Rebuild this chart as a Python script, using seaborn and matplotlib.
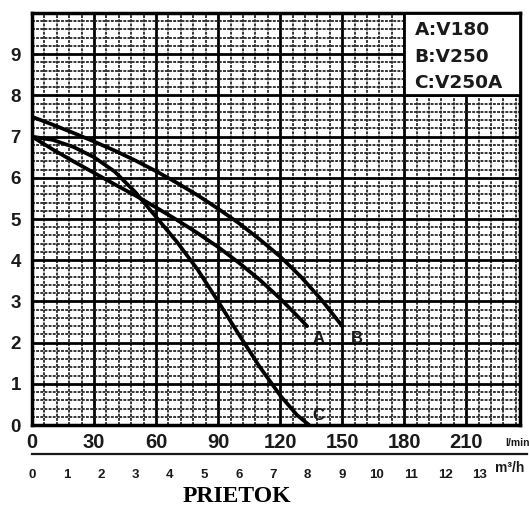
import matplotlib
matplotlib.use("Agg")
import matplotlib.pyplot as plt
import seaborn as sns
import pandas as pd
import numpy as np
from matplotlib.patches import Rectangle

# ---- data ----
flow_A = [0, 10, 20, 30, 40, 50, 60, 70, 80, 90, 100, 110, 120, 130, 133]
head_A = [7.0, 6.69, 6.40, 6.12, 5.84, 5.57, 5.28, 4.98, 4.66, 4.32, 3.94, 3.53, 3.07, 2.56, 2.4]

flow_B = [0, 10, 20, 30, 40, 50, 60, 70, 80, 90, 100, 110, 120, 130, 140, 150]
head_B = [7.48, 7.29, 7.09, 6.88, 6.66, 6.42, 6.16, 5.88, 5.58, 5.25, 4.9, 4.51, 4.09, 3.6, 3.04, 2.4]

flow_C = [0, 10, 20, 30, 40, 50, 60, 70, 80, 90, 100, 110, 120, 128, 134]
head_C = [7.0, 6.92, 6.75, 6.5, 6.15, 5.65, 5.05, 4.45, 3.78, 3.0, 2.2, 1.42, 0.72, 0.25, 0.0]

curve_names = ["A", "B", "C"]
legend_lines = ["A:V180", "B:V250", "C:V250A"]
x_ticks_lpm = [0, 30, 60, 90, 120, 150, 180, 210]
y_ticks = [0, 1, 2, 3, 4, 5, 6, 7, 8, 9]
m3h_ticks = list(range(0, 14))
x_unit = "l/min"
x2_unit = "m³/h"
x_title = "PRIETOK"

df = pd.concat([
    pd.DataFrame({"flow": flow_A, "head": head_A, "curve": "A"}),
    pd.DataFrame({"flow": flow_B, "head": head_B, "curve": "B"}),
    pd.DataFrame({"flow": flow_C, "head": head_C, "curve": "C"}),
])

sns.set_style("white")
plt.rcParams["font.family"] = ["Liberation Sans", "DejaVu Sans"]

W, H = 529, 508
fig = plt.figure(figsize=(W / 100, H / 100), dpi=100)
L, R, T, B = 32, 520, 13, 425
ax = fig.add_axes([L / W, 1 - B / H, (R - L) / W, (B - T) / H])

XMAX = 236
ax.set_xlim(0, XMAX)
ax.set_ylim(0, 10)

# grid
ax.set_xticks(x_ticks_lpm)
ax.set_xticks(np.arange(0, XMAX, 6), minor=True)
ax.set_yticks(y_ticks)
ax.set_yticks(np.arange(0, 10, 0.2), minor=True)
ax.grid(which="minor", color="#262626", lw=1.3, ls=(0, (1.6, 0.7)), zorder=1)
ax.grid(which="major", color="black", lw=2.0, ls="-", zorder=1.5)
ax.set_axisbelow(True)
for s in ax.spines.values():
    s.set_color("black")
    s.set_linewidth(2.5)

ax.tick_params(which="both", length=0)
ax.tick_params(axis="x", pad=6, labelsize=14.5)
ax.tick_params(axis="y", pad=8, labelsize=13.5)
for lab in ax.get_xticklabels() + ax.get_yticklabels():
    lab.set_fontweight("bold")
    lab.set_color("#1a1a1a")

sns.lineplot(data=df, x="flow", y="head", hue="curve",
             palette={"A": "black", "B": "black", "C": "black"},
             lw=2.7, legend=False, ax=ax, zorder=5, sort=False)
ax.set_xlabel("")
ax.set_ylabel("")

# curve labels
lab_kw = dict(fontsize=12, fontweight="bold", color="#1a1a1a", zorder=6,
              ha="center", va="center")
ax.text(138.8, 2.1, curve_names[0], **lab_kw)
ax.text(157.2, 2.1, curve_names[1], **lab_kw)
ax.text(138.3, 0.22, curve_names[2], **lab_kw)

# legend box
ax.add_patch(Rectangle((180, 8), XMAX - 180, 2, facecolor="white",
                       edgecolor="black", lw=2, zorder=7))
for i, t in enumerate(legend_lines):
    ax.text(185.0, 9.59 - i * 0.65, t, fontsize=13.3, fontweight="bold",
            family=["DejaVu Sans"], color="#1a1a1a",
            ha="left", va="center", zorder=8)

# unit label l/min
fig.text(517 / W, 1 - 443 / H, x_unit, fontsize=7.5, fontweight="bold",
         ha="center", va="center", color="#1a1a1a")

# secondary m3/h axis
px_per_lpm = (R - L) / XMAX
px_per_m3h = px_per_lpm * 1000 / 60
AX2R = 527
ax2 = fig.add_axes([L / W, 1 - 454 / H, (AX2R - L) / W, 0.0001])
ax2.set_xlim(0, (AX2R - L) / px_per_m3h)
for k in ["top", "left", "right"]:
    ax2.spines[k].set_visible(False)
ax2.spines["bottom"].set_linewidth(1.6)
ax2.spines["bottom"].set_color("#1a1a1a")
ax2.set_yticks([])
ax2.set_xticks(m3h_ticks)
ax2.tick_params(axis="x", direction="out", length=6, width=1.7,
                color="#1a1a1a", labelsize=9.5, pad=5)
for lab in ax2.get_xticklabels():
    lab.set_fontweight("bold")
    lab.set_color("#1a1a1a")
ax2.patch.set_visible(False)
fig.text(510 / W, 1 - 468 / H, x2_unit, fontsize=10, fontweight="bold",
         ha="center", va="center", color="#1a1a1a")

fig.text(237 / W, 1 - 497 / H, x_title, fontsize=17, fontweight="bold",
         family=["Liberation Serif", "DejaVu Serif"],
         ha="center", va="center", color="black")

fig.savefig("out.png", dpi=100, facecolor="white")
